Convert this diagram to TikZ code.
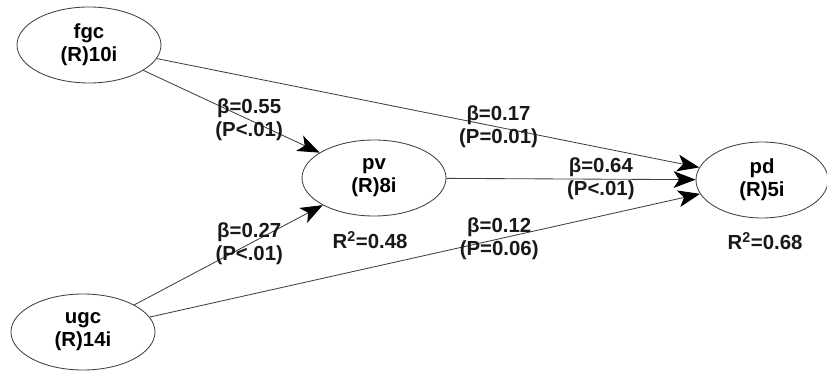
\documentclass[tikz,border=0pt]{standalone}
\usepackage{fontspec}
\setmainfont{Liberation Sans}
\usetikzlibrary{
    arrows.meta,
    positioning,
    shapes.geometric
}

\begin{document}
\begin{tikzpicture}[
    font=\fontsize{14.5}{16.3}\selectfont\bfseries,
    latent/.style={
        ellipse,
        draw=black!75,
        line width=0.6pt,
        inner sep=0pt,
        align=center,
        minimum width=3.6cm,
        minimum height=1.9cm,
        fill=white
    },
    path/.style={
        -{Stealth[length=5.5mm,width=4.2mm,inset=1.4mm,color=black]},
        line width=0.6pt,
        draw=black!75
    },
    coef/.style={
        align=center,
        inner sep=1pt,
        text=black!90
    }
]
\useasboundingbox (0,0) rectangle (20.675,-9.275);

% =========================================================
% Constructs
% =========================================================
\node[latent] (fgc) at (2.225,-1.125) {fgc\\(R)10i};
\node[latent] (ugc) at (2.075,-8.3) {ugc\\(R)14i};
\node[latent] (pv) at (9.35,-4.45) {pv\\(R)8i};
\node[latent, minimum width=3.3cm] (pd) at (19.05,-4.5) {pd\\(R)5i};

% =========================================================
% Explained variance
% =========================================================
\node[coef] (r2pv) at (9.25,-6.0) {R\textsuperscript{2}=0.48};
\node[coef] (r2pd) at (19.125,-6.025) {R\textsuperscript{2}=0.68};

% =========================================================
% Structural paths
% =========================================================
\draw[path] (fgc) -- node[pos=0.6, coef] {β=0.55\\(P<.01)} (pv);
\draw[path] (ugc) -- node[pos=0.61, coef] {β=0.27\\(P<.01)} (pv);
\draw[path] (fgc) -- node[pos=0.63, coef] {β=0.17\\(P=0.01)} (pd);
\draw[path] (pv) -- node[pos=0.62, coef] {β=0.64\\(P<.01)} (pd);
\draw[path] (ugc) -- node[pos=0.635, coef] {β=0.12\\(P=0.06)} (pd);

\end{tikzpicture}
\end{document}
